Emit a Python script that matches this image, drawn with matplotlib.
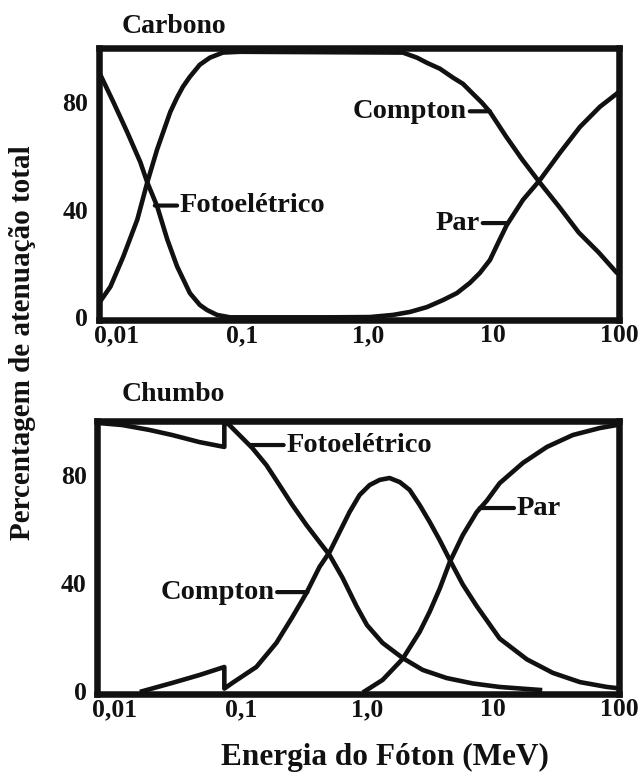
import matplotlib.pyplot as plt
from matplotlib.ticker import NullLocator

# energia em MeV, percentagem da atenuação total
carbono_foto_x = [0.0072, 0.00946, 0.0122, 0.0155, 0.0176, 0.0211, 0.0254, 0.0304, 0.0384, 0.0461, 0.0527,
                  0.0632, 0.080, 1.0]
carbono_foto_y = [91.5, 79.9, 68.7, 57.6, 50.1, 41.2, 28.9, 18.9, 9.0, 4.6, 2.7,
                  0.9, 0, 0]

carbono_compton_x = [0.0072, 0.00896, 0.01135, 0.01466, 0.0176, 0.0211, 0.0268, 0.0303, 0.0338, 0.0384, 0.0461,
                     0.0554, 0.0703, 0.096, 1.905, 2.47, 2.96, 3.76, 4.77, 5.73, 6.88, 8.11, 9.38, 12.6,
                     16.9, 23.0, 33.2, 47.8, 68.9, 95.8, 100]
carbono_compton_y = [5, 11.4, 22.6, 36.3, 50.1, 62.4, 76.2, 81.5, 85.6, 89.3, 93.8,
                     96.4, 98.3, 98.6, 98.3, 96.4, 94.5, 92.3, 89.0, 86.7, 83.0, 79.7, 76.3, 67.2,
                     58.7, 50.5, 41.2, 31.5, 24.1, 16.6, 16]

carbono_par_x = [0.5, 1.04, 1.59, 2.17, 2.96, 3.97, 5.13, 6.51, 7.82, 9.4, 10.9, 12.8, 17.2, 23.5,
                 33.9, 48.9, 70.6, 98.2, 100]
carbono_par_y = [0, 0.1, 0.9, 2.0, 3.8, 6.4, 9.0, 12.8, 16.5, 21.3, 27.6, 34.3, 43.6, 51,
                 61.1, 70.7, 78.2, 83.4, 83.6]

chumbo_foto_x = [0.0072, 0.0114, 0.0187, 0.0285, 0.0467, 0.0738, 0.0738, 0.0766, 0.0809, 0.0971, 0.123,
                 0.159, 0.202, 0.256, 0.331, 0.420, 0.505, 0.640, 0.826, 1.0, 1.33, 1.92, 2.77, 4.29,
                 6.91, 11.3, 18.6, 23.6]
chumbo_foto_y = [99.3, 98.5, 96.7, 94.8, 92.2, 90.4, 100, 99.6, 98.5, 94.8, 90.0,
                 83.7, 76.3, 68.9, 61.5, 55.2, 50.4, 42, 31.5, 24.5, 17.9, 12.3, 7.9, 4.9,
                 2.9, 1.6, 0.85, 0.5]

chumbo_compton_x = [0.0164, 0.0285, 0.0467, 0.0738, 0.0738, 0.0855, 0.1325, 0.191, 0.256, 0.331, 0.420,
                    0.505, 0.606, 0.727, 0.873, 1.05, 1.26, 1.51, 1.82, 2.18, 2.62, 3.15, 3.78, 4.54,
                    5.76, 7.43, 11.3, 18.6, 29.9, 49.0, 80.3, 100]
chumbo_compton_y = [0, 3.1, 6, 9, 1, 3.1, 9, 17.9, 27.5, 36.4, 46,
                    51.5, 58.9, 66.3, 72.6, 76.3, 78.2, 78.9, 77.4, 74.5, 68.9, 62.6, 55.9, 48.6,
                    39.5, 31.5, 19.5, 11.8, 6.8, 3.4, 1.6, 1.1]

chumbo_par_x = [0.96, 1.33, 1.92, 2.62, 3.15, 3.78, 4.54, 5.76, 7.43, 8.93, 11.3, 17.3, 26.8, 43.0,
                70.6, 96.4, 100]
chumbo_par_y = [0, 4.2, 12, 22, 29.5, 38, 47.8, 57.8, 66.3, 70.5, 77, 84.5, 90.4, 94.8,
                97.4, 98.5, 98.6]

xticks = [0.01, 0.1, 1, 10, 100]
xtick_labels = ['0,01', '0,1', '1,0', '10', '100']
yticks = [0, 40, 80]

plt.rcParams['font.family'] = 'Liberation Serif'
plt.rcParams['font.weight'] = 'bold'
ink = '#111111'

fig = plt.figure(figsize=(6.38, 7.73), dpi=100)
ax1 = fig.add_axes([0.1544, 0.5860, 0.8158, 0.3519])
ax2 = fig.add_axes([0.1520, 0.1022, 0.8182, 0.3532])

for ax in (ax1, ax2):
    ax.set_xscale('log')
    ax.set_xlim(0.0072, 100)
    ax.set_ylim(-1, 100)
    ax.set_xticks(xticks)
    ax.set_xticklabels(xtick_labels)
    ax.xaxis.set_minor_locator(NullLocator())
    ax.set_yticks(yticks)
    ax.tick_params(length=0, labelsize=18.5, colors=ink)
    ax.tick_params(axis='x', pad=3)
    ax.tick_params(axis='y', pad=7.5)
    for s in ax.spines.values():
        s.set_linewidth(4.7)
        s.set_color(ink)


def curve(ax, x, y):
    ax.plot(x, y, color=ink, lw=3.3, solid_joinstyle='round')


def rotulo(ax, texto, ponto, pos_texto, lado):
    ax.annotate(texto, xy=ponto, xytext=pos_texto,
                ha='right' if lado == 'esq' else 'left', va='center', fontsize=20.5, color=ink,
                arrowprops=dict(arrowstyle='-', lw=3, color=ink, shrinkA=0, shrinkB=0,
                                relpos=(1, 0.5) if lado == 'esq' else (0, 0.5)))


curve(ax1, carbono_foto_x, carbono_foto_y)
curve(ax1, carbono_compton_x, carbono_compton_y)
curve(ax1, carbono_par_x, carbono_par_y)
rotulo(ax1, 'Compton', (9.4, 76.5), (6.17, 76.5), 'esq')
rotulo(ax1, 'Fotoelétrico', (0.0202, 41.5), (0.032, 41.5), 'dir')
rotulo(ax1, 'Par', (13.06, 35), (7.82, 35), 'esq')

curve(ax2, chumbo_foto_x, chumbo_foto_y)
curve(ax2, chumbo_compton_x, chumbo_compton_y)
curve(ax2, chumbo_par_x, chumbo_par_y)
rotulo(ax2, 'Fotoelétrico', (0.118, 91.1), (0.2296, 91.1), 'dir')
rotulo(ax2, 'Compton', (0.337, 36.7), (0.184, 36.7), 'esq')
rotulo(ax2, 'Par', (7.85, 67.8), (15.45, 67.8), 'dir')

fig.text(122 / 638, 1 - 33 / 773, 'Carbono', fontsize=20, va='baseline', color=ink)
fig.text(122 / 638, 1 - 401 / 773, 'Chumbo', fontsize=20, va='baseline', color=ink)
fig.text(23 / 638, 1 - 343 / 773, 'Percentagem de atenuação total', rotation=90,
         ha='center', va='center', fontsize=21, color=ink)
fig.text(385 / 638, 1 - 765 / 773, 'Energia do Fóton (MeV)', ha='center', va='baseline',
         fontsize=22.5, color=ink)

fig.savefig('out.png', dpi=100)
